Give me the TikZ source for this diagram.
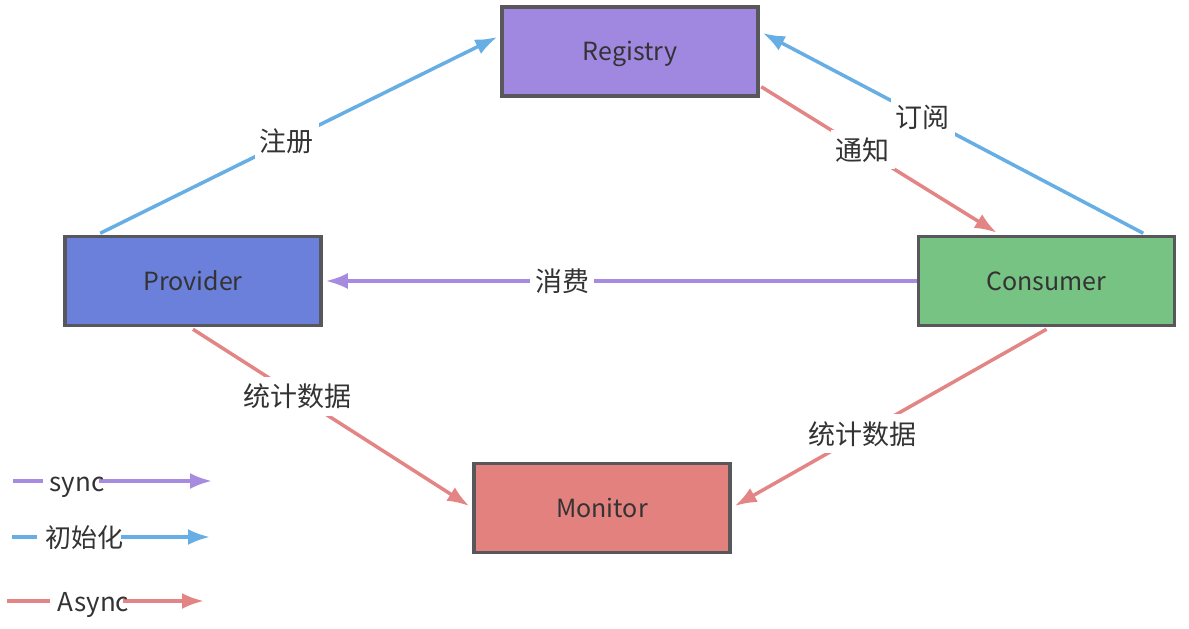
\documentclass[tikz,border=0pt]{standalone}
\usepackage{fontspec}
\setmainfont{Noto Sans CJK SC}
\usetikzlibrary{arrows.meta}
\definecolor{cblue}{HTML}{66AEE3}
\definecolor{cred}{HTML}{E48585}
\definecolor{cpurple}{HTML}{A78BE0}
\definecolor{freg}{HTML}{A087E0}
\definecolor{fprov}{HTML}{6B80DB}
\definecolor{fcons}{HTML}{77C383}
\definecolor{fmon}{HTML}{E3817F}
\definecolor{bordc}{HTML}{58585C}
\definecolor{txt}{HTML}{333333}
\tikzset{
  box/.style={draw=bordc, line width=3.5pt, minimum width=256pt, minimum height=89pt, inner sep=0pt, text height=24pt, text depth=6pt, font=\fontsize{25}{30}\selectfont, text=txt},
  conn/.style={line width=3.5pt, -{Latex[length=22pt,width=16pt]}},
  plainline/.style={line width=3.5pt},
  lbl/.style={fill=white, inner sep=5pt, text height=25pt, text depth=4pt, font=\fontsize{27}{30}\selectfont, text=txt},
  leg/.style={inner sep=0pt, text height=25pt, text depth=5pt, font=\fontsize{26}{30}\selectfont, text=txt}
}
\begin{document}
\begin{tikzpicture}[x=1pt,y=-1pt]
\useasboundingbox (0,0) rectangle (1189,629);
\node[box, fill=freg] (reg) at (630,51.5) {Registry};
\node[box, fill=fprov] (prov) at (193,281) {Provider};
\node[box, fill=fcons] (cons) at (1046.5,281) {Consumer};
\node[box, fill=fmon] (mon) at (602,508) {Monitor};

\draw[conn, cblue] ([xshift=37pt,yshift=1.5pt]prov.north west) -- ([xshift=-3pt,yshift=14.5pt]reg.west) node[lbl, pos=0.47] {注册};
\draw[conn, cblue] ([xshift=-33pt,yshift=1.5pt]cons.north east) -- ([xshift=3pt,yshift=18.5pt]reg.east) node[lbl, pos=0.58] {订阅};
\draw[conn, cred] ([xshift=1.5pt,yshift=11pt]reg.south east) -- ([xshift=80pt,yshift=2pt]cons.north west) node[lbl, pos=0.43] {通知};
\draw[conn, cpurple] (cons.west) -- ([xshift=3pt]prov.east) node[lbl, pos=0.6] {消费};
\draw[conn, cred] ([yshift=-2pt]prov.south) -- ([xshift=-3pt,yshift=2pt]mon.west) node[lbl, pos=0.38] {统计数据};
\draw[conn, cred] ([yshift=-2pt]cons.south) -- ([xshift=3pt,yshift=2pt]mon.east) node[lbl, pos=0.59] {统计数据};

% legend
\coordinate (s1) at (13,481); \coordinate (s2) at (43,481);
\coordinate (s3) at (99,481); \coordinate (s4) at (212,481);
\draw[plainline, cpurple] (s1) -- (s2);
\draw[conn, cpurple] (s3) -- (s4);
\node[leg] (ls) at (77,481) {sync};

\coordinate (b1) at (12,537); \coordinate (b2) at (37,537);
\coordinate (b3) at (121,537); \coordinate (b4) at (210,537);
\draw[plainline, cblue] (b1) -- (b2);
\draw[conn, cblue] (b3) -- (b4);
\node[leg] (lb) at (84.5,537) {初始化};

\coordinate (r1) at (7,601); \coordinate (r2) at (50,601);
\coordinate (r3) at (123,601); \coordinate (r4) at (204,601);
\draw[plainline, cred] (r1) -- (r2);
\draw[conn, cred] (r3) -- (r4);
\node[leg] (lr) at (93.5,601) {Async};
\end{tikzpicture}
\end{document}
